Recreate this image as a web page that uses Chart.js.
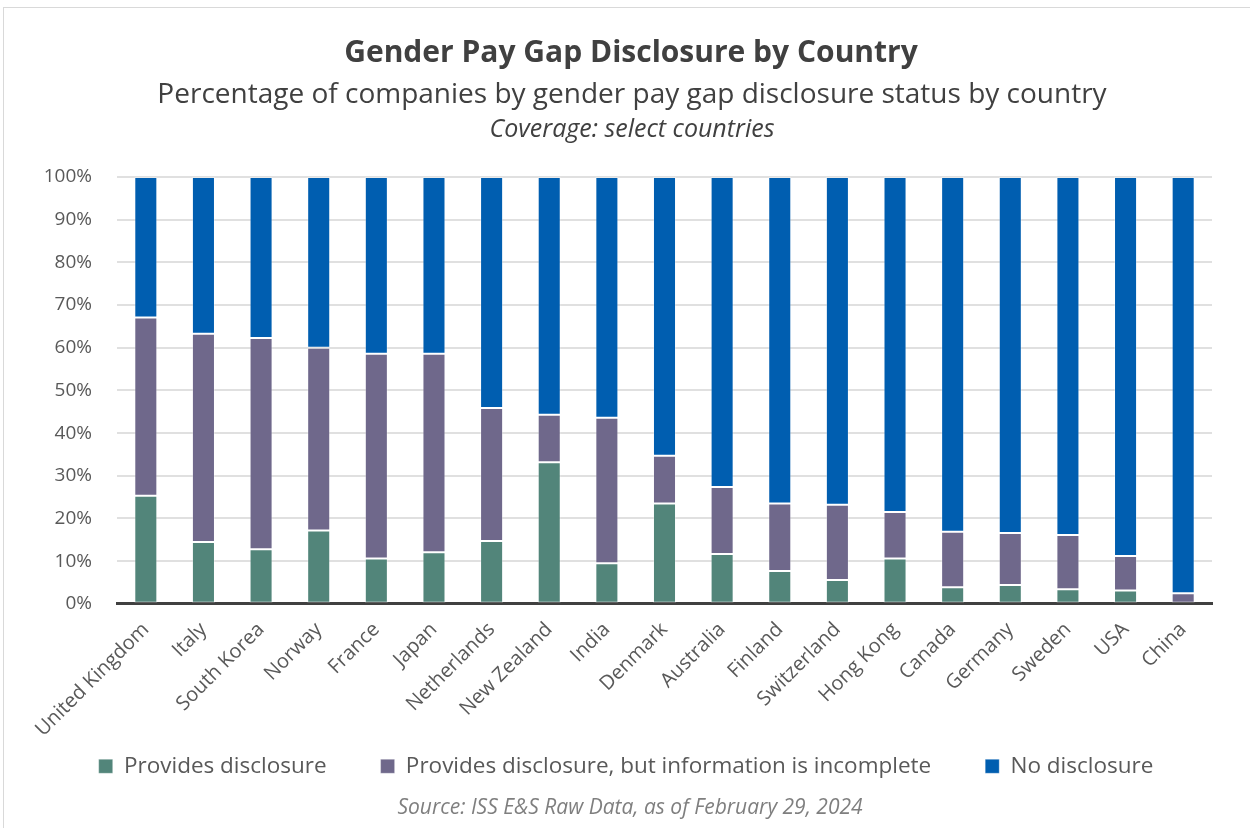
<!DOCTYPE html>
<html>
<head>
<meta charset="utf-8">
<script src="https://cdn.jsdelivr.net/npm/chart.js@4/dist/chart.umd.min.js"></script>
<style>
  body { margin: 0; background: #fff; }
  #wrap { width: 1250px; height: 828px; }
</style>
</head>
<body>
<div id="wrap"><canvas id="gender-pay-gap" width="1250" height="828"></canvas></div>
<script>
const ctxGap = document.getElementById('gender-pay-gap').getContext('2d')

const FONT = "'Open Sans', 'Noto Sans', sans-serif"
const GREEN = '#52857a'
const PURPLE = '#6f688b'
const BLUE = '#005eb0'
const TEXT_GRAY = '#595959'
const LEGEND_PAD = 54

const countries = [
  'United Kingdom', 'Italy', 'South Korea', 'Norway', 'France', 'Japan',
  'Netherlands', 'New Zealand', 'India', 'Denmark', 'Australia', 'Finland',
  'Switzerland', 'Hong Kong', 'Canada', 'Germany', 'Sweden', 'USA', 'China',
]
// share of companies, % (stacked segments, each column sums to 100)
const providesDisclosure = [
  25.3, 14.5, 12.8, 17.2, 10.6, 12.1, 14.7, 33.2, 9.5, 23.5,
  11.7, 7.7, 5.6, 10.6, 3.9, 4.4, 3.4, 3.1, 0,
]
const incompleteDisclosure = [
  41.8, 48.8, 49.5, 42.8, 48.0, 46.5, 31.2, 11.1, 34.1, 11.2,
  15.7, 15.8, 17.6, 10.9, 13.0, 12.2, 12.7, 8.1, 2.5,
]
const noDisclosure = [
  32.9, 36.7, 37.7, 40.0, 41.4, 41.4, 54.1, 55.7, 56.4, 65.3,
  72.6, 76.5, 76.8, 78.5, 83.1, 83.4, 83.9, 88.8, 97.5,
]
const yTicks = [0, 10, 20, 30, 40, 50, 60, 70, 80, 90, 100]

// header / footer text + outer frame
const textBlocks = {
  id: 'textBlocks',
  beforeDraw: chart => {
    const c = chart.ctx
    c.save()
    c.strokeStyle = '#d9d9d9'
    c.lineWidth = 1
    c.strokeRect(3.5, 7.5, 1400, 900)
    c.textAlign = 'center'
    c.textBaseline = 'middle'
    c.fillStyle = '#404040'
    c.font = `bold 30px ${FONT}`
    c.fillText('Gender Pay Gap Disclosure by Country', 631, 53)
    c.font = `28px ${FONT}`
    c.fillText('Percentage of companies by gender pay gap disclosure status by country', 632, 95)
    c.font = `italic 25px ${FONT}`
    c.fillText('Coverage: select countries', 632, 130)
    c.fillStyle = '#7f7f7f'
    c.font = `italic 21px ${FONT}`
    c.fillText('Source: ISS E&S Raw Data, as of February 29, 2024', 630, 808)
    c.restore()
  },
}

// the wide item spacing also adds height to the legend; pull the row back up
const legendLift = {
  id: 'legendLift',
  afterLayout: chart => {
    const lg = chart.legend
    const dy = lg.top + LEGEND_PAD + 11 - 766
    lg.top -= dy
    lg.bottom -= dy
  },
}

const dataGap = {
  labels: countries,
  datasets: [
    { label: 'Provides disclosure', data: providesDisclosure, backgroundColor: GREEN },
    { label: 'Provides disclosure, but information is incomplete', data: incompleteDisclosure, backgroundColor: PURPLE },
    { label: 'No disclosure', data: noDisclosure, backgroundColor: BLUE },
  ].map(ds => ({
    ...ds,
    borderColor: 'rgba(255,255,255,0.3)',
    borderWidth: 1,
    borderSkipped: false,
    barPercentage: 0.4,
    categoryPercentage: 1,
  })),
}

const configGap = {
  type: 'bar',
  data: dataGap,
  plugins: [textBlocks, legendLift],
  options: {
    responsive: false,
    animation: false,
    layout: { padding: { top: 177, right: 38, bottom: -6, left: 40 } },
    plugins: {
      title: { display: false },
      tooltip: { enabled: false },
      legend: {
        position: 'bottom',
        labels: {
          color: TEXT_GRAY,
          font: { family: FONT, size: 22.5 },
          boxWidth: 14,
          boxHeight: 14,
          padding: LEGEND_PAD,
        },
      },
    },
    scales: {
      x: {
        stacked: true,
        grid: { display: false },
        border: { color: '#404040', width: 3 },
        ticks: {
          color: TEXT_GRAY,
          font: { family: FONT, size: 20 },
          maxRotation: 45,
          minRotation: 45,
          padding: 6,
          autoSkip: false,
        },
      },
      y: {
        stacked: true,
        min: 0,
        max: 100,
        afterFit: s => { s.width = 77 },
        afterBuildTicks: s => { s.ticks = yTicks.map(v => ({ value: v })) },
        grid: { color: '#e0e0e0', lineWidth: 2, drawTicks: false },
        border: { display: false },
        ticks: {
          color: TEXT_GRAY,
          font: { family: FONT, size: 19 },
          padding: 25,
          callback: value => value + '%',
        },
      },
    },
  },
}

const gapChart = new Chart(ctxGap, configGap)
</script>
</body>
</html>
